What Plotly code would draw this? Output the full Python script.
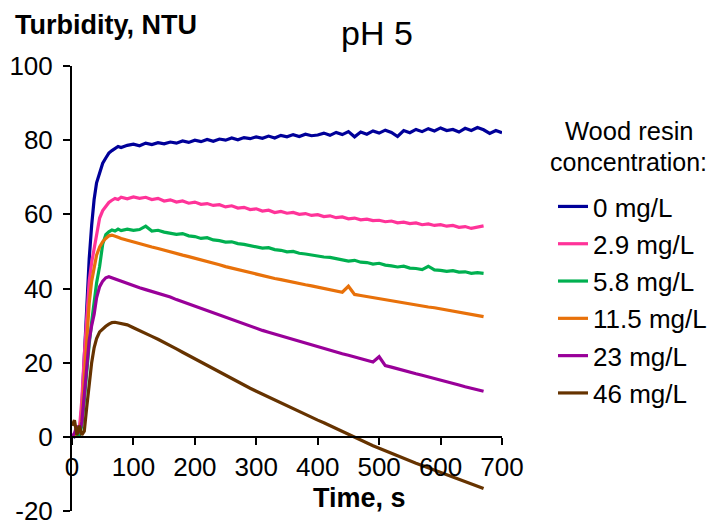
import plotly.graph_objects as go

# time axis (s)
time_s = [0, 4, 8, 12, 16, 20, 24, 28, 32, 36, 40, 45, 50, 55, 60, 65, 70, 75, 80, 90,
          100, 110, 120, 130, 140, 150, 160, 170, 180, 190, 200, 210, 220, 230, 240,
          250, 260, 270, 280, 290, 300, 310, 320, 330, 340, 350, 360, 370, 380, 390,
          400, 410, 420, 430, 440, 450, 460, 470, 480, 490, 500, 510, 520, 530, 540,
          550, 560, 570, 580, 590, 600, 610, 620, 630, 640, 650, 660, 670]
time_blue = time_s + [680, 690, 700]

labels = ["0 mg/L", "2.9 mg/L", "5.8 mg/L", "11.5 mg/L", "23 mg/L", "46 mg/L"]
colors = ["#000099", "#FF3399", "#00B050", "#E8710A", "#990099", "#663300"]

y_tick_vals = [-20, 0, 20, 40, 60, 80, 100]
y_tick_text = ["-20", "0", "20", "40", "60", "80", "100"]

turb_0 = [0.5, 0, 0.5, 0.5, 8, 22, 36, 48, 57, 64, 68.5, 71.5, 73.8, 75.2, 76.5, 77.2, 77.8, 78.3, 78.0, 78.6,
          78.9, 78.5, 79.2, 78.8, 79.3, 79.0, 79.5, 79.2, 79.8, 79.4, 80.0, 79.6, 80.2, 79.7, 80.3,
          80.0, 80.6, 80.1, 80.7, 80.4, 80.9, 80.5, 81.1, 80.6, 81.3, 80.9, 81.5, 81.0, 81.6, 81.2,
          81.4, 81.9, 81.3, 82.1, 81.5, 82.3, 80.9, 82.2, 81.6, 82.5, 81.9, 82.7, 82.1, 81.0, 82.6,
          82.0, 82.9, 82.3, 83.1, 82.5, 83.3, 82.6, 82.9, 82.2, 83.2, 82.6, 83.4, 82.8,
          81.8, 82.6, 82.0]
turb_2_9 = [0, 0.5, 1, 2, 10, 22, 33, 42, 47, 51, 55, 59, 61, 62.3, 63.2, 63.8, 64.3, 64.0, 64.6, 64.2,
            64.7, 64.3, 64.6, 64.0, 64.3, 63.6, 63.9, 63.3, 63.6, 63.0, 63.3, 62.7, 62.9, 62.4, 62.6,
            62.0, 62.3, 61.7, 61.9, 61.3, 61.5, 60.9, 61.1, 60.5, 60.8, 60.3, 60.5, 60.0, 60.2, 59.7,
            59.9, 59.4, 59.6, 59.1, 59.3, 58.8, 59.0, 58.5, 58.7, 58.3, 58.4, 58.0, 58.2, 57.7, 57.9,
            57.5, 57.7, 57.2, 57.4, 57.0, 57.2, 56.8, 57.0, 56.5, 56.7, 56.2, 56.6, 56.9]
turb_5_8 = [0, 0.3, 0.5, 0.5, 3, 10, 18, 25, 31, 36, 41.5, 46, 52, 54.5, 55.3, 55.8, 55.5, 56.0, 55.6, 56.0,
            55.7, 55.9, 56.8, 55.5, 55.7, 55.2, 55.0, 54.6, 54.8, 54.2, 54.0, 53.5, 53.7, 53.1, 52.9,
            52.5, 52.6, 52.1, 51.9, 51.5, 51.3, 50.9, 51.0, 50.5, 50.3, 49.9, 50.0, 49.5, 49.3, 49.0,
            48.9, 48.5, 48.4, 48.0, 47.8, 47.4, 47.6, 47.1, 47.0, 46.6, 46.8, 46.3, 46.1, 45.8, 46.0,
            45.5, 45.4, 45.1, 46.0, 45.0, 44.9, 44.6, 44.8, 44.4, 44.5, 44.1, 44.3, 44.1]
turb_11_5 = [0, 0.5, 1, 1.5, 5, 16, 27, 36, 42, 46, 49, 51.2, 52.6, 53.5, 54.2, 54.4, 54.0, 53.8, 53.5, 53.0,
             52.6, 52.1, 51.7, 51.2, 50.8, 50.3, 49.9, 49.4, 49.0, 48.6, 48.2, 47.7, 47.3, 46.8, 46.4,
             45.9, 45.5, 45.0, 44.6, 44.1, 43.7, 43.4, 43.0, 42.7, 42.4, 42.0, 41.7, 41.4, 41.0, 40.7,
             40.4, 40.0, 39.7, 39.4, 39.0, 40.6, 38.4, 38.1, 37.8, 37.5, 37.2, 36.9, 36.6, 36.4, 36.1,
             35.8, 35.5, 35.3, 35.0, 34.8, 34.5, 34.2, 34.0, 33.6, 33.3, 33.0, 32.6, 32.4]
turb_23 = [0, 1, 3, 1, 4, 12, 20, 26, 30, 33, 37.5, 40.5, 42.0, 42.9, 43.2, 42.9, 42.6, 42.2, 41.8, 41.4,
           40.8, 40.2, 39.7, 39.2, 38.9, 38.3, 37.7, 37.0, 36.4, 35.8, 35.2, 34.6, 34.0, 33.4, 32.8,
           32.1, 31.5, 30.9, 30.3, 29.7, 29.2, 28.7, 28.2, 27.7, 27.2, 26.7, 26.2, 25.7, 25.2, 24.7,
           24.3, 23.8, 23.4, 22.9, 22.4, 22.0, 21.5, 21.1, 20.6, 20.2, 21.6, 19.2, 18.8, 18.3, 17.9,
           17.5, 17.0, 16.6, 16.2, 15.7, 15.3, 14.9, 14.4, 14.0, 13.5, 13.1, 12.7, 12.3]
turb_46 = [3, 4.5, 0.5, 3, 0.5, 1.5, 8, 15, 20, 24, 26.5, 28.3, 29.2, 29.8, 30.4, 30.8, 30.9, 30.7, 30.6, 30.2,
           29.4, 28.7, 27.9, 27.1, 26.3, 25.5, 24.6, 23.7, 22.8, 21.9, 21.0, 20.2, 19.3, 18.4, 17.5,
           16.6, 15.7, 14.8, 13.9, 13.1, 12.3, 11.5, 10.7, 9.9, 9.1, 8.3, 7.5, 6.8, 6.0, 5.3,
           4.5, 3.8, 3.0, 2.2, 1.5, 0.8, 0.0, -0.9, -1.6, -2.4, -3.1, -3.8, -4.5, -5.1, -5.8,
           -6.5, -7.1, -7.7, -8.3, -8.9, -9.6, -10.2, -10.8, -11.4, -12.0, -12.6, -13.2, -13.9]

series = [turb_0, turb_2_9, turb_5_8, turb_11_5, turb_23, turb_46]

FONT = "Liberation Sans, Arial, sans-serif"

# page body has an 8px margin, so the figure is laid out 8px up/left
fig = go.Figure()
for i, (name, col, vals) in enumerate(zip(labels, colors, series)):
    xs = time_blue if i == 0 else time_s
    fig.add_trace(go.Scatter(x=xs, y=vals, mode="lines", name=name,
                             legendgroup=name,
                             line=dict(color=col, width=3.2)))

fig.update_layout(
    width=716, height=523,
    margin=dict(l=64, r=222, t=58, b=20),
    plot_bgcolor="white", paper_bgcolor="white",
    font=dict(family=FONT, size=26, color="black"),
    showlegend=True,
    legend=dict(
        x=1.1186, y=0.737, xanchor="left", yanchor="top",
        font=dict(size=26),
        itemwidth=30, traceorder="grouped", tracegroupgap=0.5,
        bgcolor="rgba(0,0,0,0)",
    ),
)

fig.update_xaxes(
    range=[0, 700], dtick=100, tick0=0,
    showgrid=False, zeroline=False, automargin=False,
    showline=True, linecolor="black", linewidth=2,
    ticks="outside", ticklen=7, tickwidth=2, tickcolor="black",
    anchor="free", position=1/6,
    tickfont=dict(size=26),
)
fig.update_yaxes(
    range=[-20, 100], tickvals=y_tick_vals, ticktext=y_tick_text,
    showgrid=False, zeroline=False, automargin=False,
    showline=True, linecolor="black", linewidth=2,
    ticks="outside", ticklen=7, tickwidth=2, tickcolor="black",
    ticklabelstandoff=5,
    tickfont=dict(size=26),
)

# legend heading, centred over the legend entries
fig.add_annotation(text="Wood resin", xref="paper", yref="paper",
                   x=(629 - 72) / 430, y=(511 - 131) / 445,
                   xanchor="center", yanchor="middle",
                   showarrow=False, font=dict(size=25.5))
fig.add_annotation(text="concentration:", xref="paper", yref="paper",
                   x=(628 - 72) / 430, y=(511 - 162) / 445,
                   xanchor="center", yanchor="middle",
                   showarrow=False, font=dict(size=25))

fig.add_annotation(text="<b>Turbidity, NTU</b>", xref="paper", yref="paper",
                   x=(13 - 72) / 430, y=(511 - 25) / 445,
                   xanchor="left", yanchor="middle",
                   showarrow=False, font=dict(size=27))
fig.add_annotation(text="pH 5", xref="paper", yref="paper",
                   x=(377 - 72) / 430, y=(511 - 33) / 445,
                   xanchor="center", yanchor="middle",
                   showarrow=False, font=dict(size=34))
fig.add_annotation(text="<b>Time, s</b>", xref="paper", yref="paper",
                   x=(359 - 72) / 430, y=(511 - 498) / 445,
                   xanchor="center", yanchor="middle",
                   showarrow=False, font=dict(size=27))

fig.write_html("out.html")
